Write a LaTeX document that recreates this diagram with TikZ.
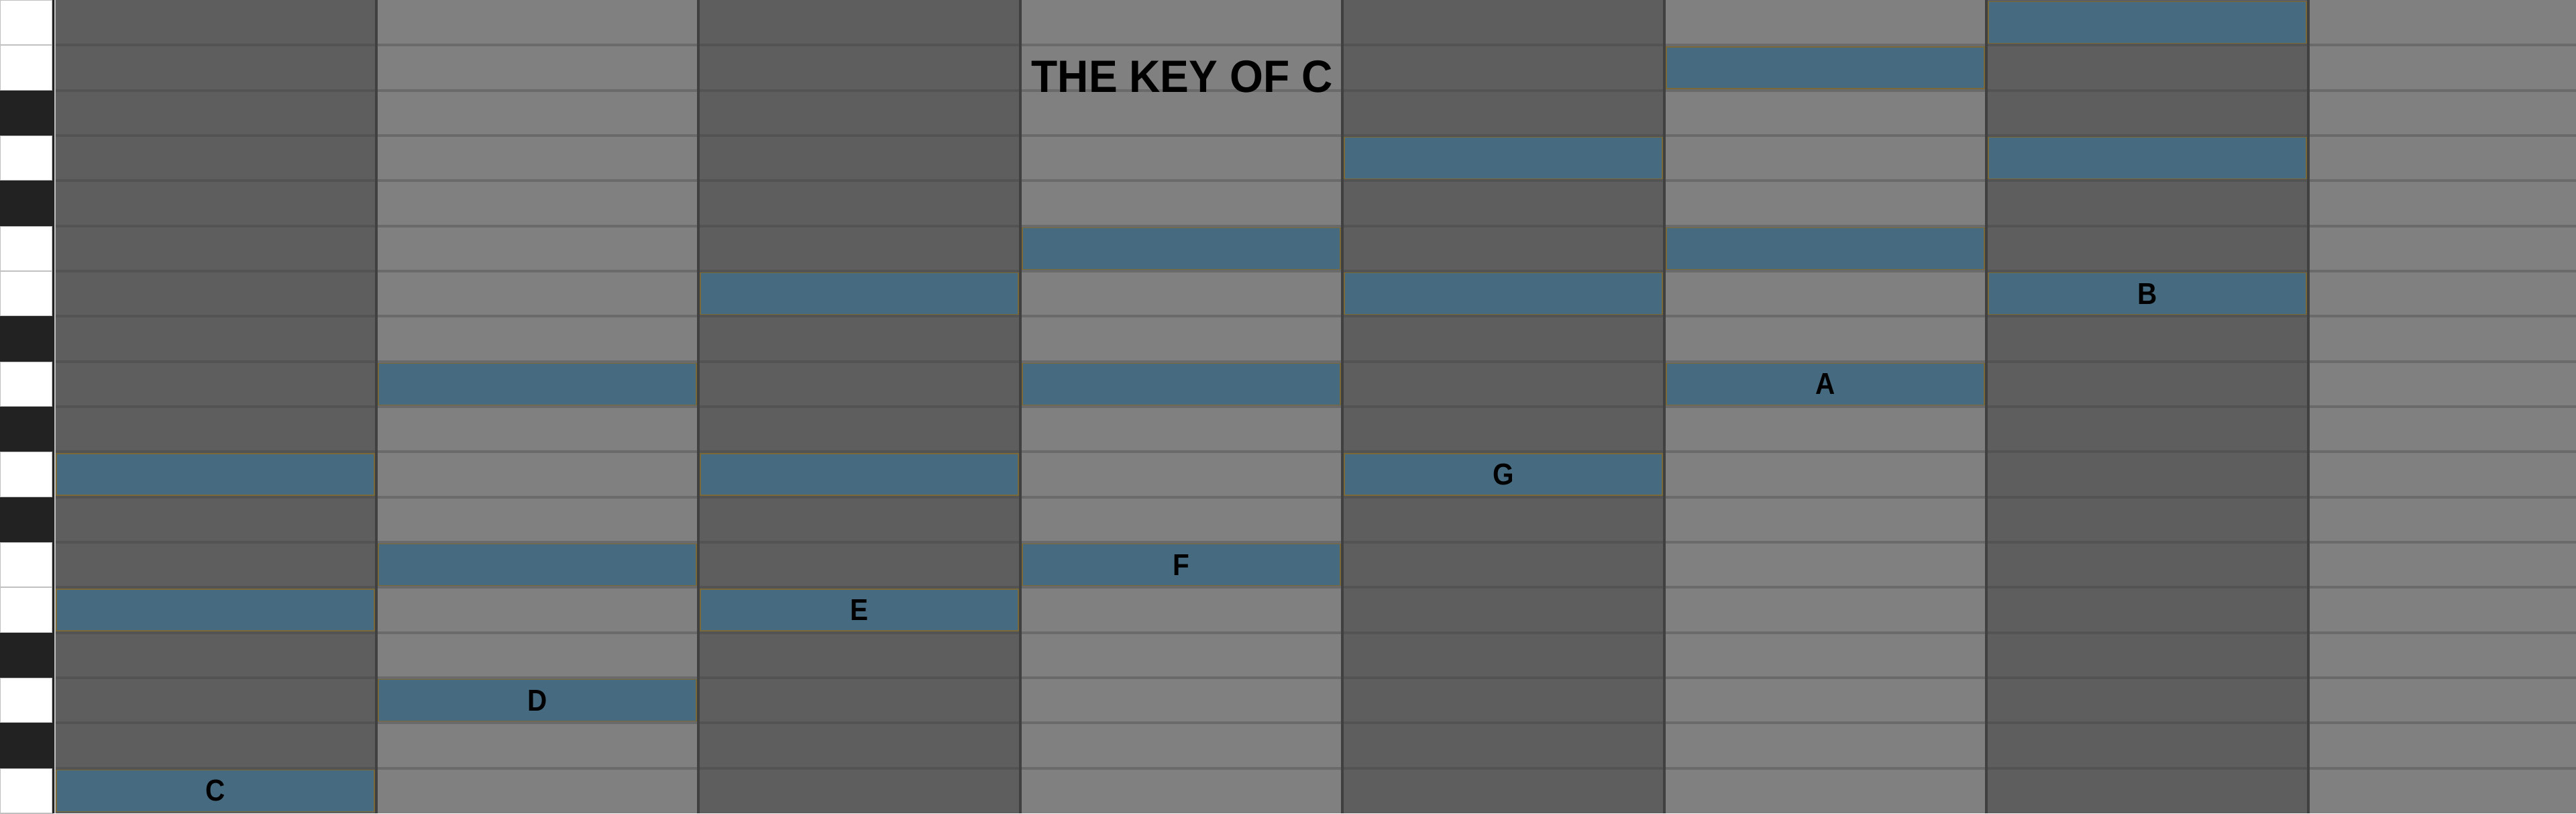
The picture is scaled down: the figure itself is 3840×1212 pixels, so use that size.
\documentclass[tikz,border=0pt]{standalone}
\usepackage{fontspec}
\setmainfont{Liberation Sans}
\newfontfamily\rollfont[FakeStretch=0.9]{Liberation Sans}
\newfontfamily\titlefont[FakeStretch=0.95]{Liberation Sans}
\definecolor{keywhite}{RGB}{255,255,255}
\definecolor{keyblack}{RGB}{34,34,34}
\definecolor{keysep}{RGB}{192,192,192}
\definecolor{coldark}{RGB}{94,94,94}
\definecolor{collight}{RGB}{128,128,128}
\definecolor{linedark}{RGB}{83,83,83}
\definecolor{linelight}{RGB}{106,106,106}
\definecolor{colsep}{RGB}{64,64,64}
\definecolor{notefill}{RGB}{70,107,128}
\definecolor{noteedge}{RGB}{122,106,58}

\begin{document}
\begin{tikzpicture}[x=0.01cm, y=0.01cm,
    note/.style={draw=noteedge, line width=0.45pt, fill=notefill, inner sep=0pt,
        minimum width=4.74cm, minimum height=0.62cm,
        font=\rollfont\bfseries\fontsize{12.8}{14}\selectfont},
    title/.style={font=\titlefont\bfseries\fontsize{19.2}{21}\selectfont}]

\useasboundingbox (0,0) rectangle (3840,1212);

% === Teclado a la izquierda ===
\foreach \b in {0,2,4,5,7,9,11,12,14,16,17} {
    \filldraw[fill=keywhite, draw=keysep, line width=0.6pt]
        (0, \b*67.333) rectangle (78, \b*67.333+67.333);
}
\foreach \b in {1,3,6,8,10,13,15} {
    \fill[keyblack] (0, \b*67.333) rectangle (80, \b*67.333+67.333);
}
\draw[keyblack, line width=0.9pt] (79.5,0) -- (79.5,1212);
\draw[keysep, line width=0.5pt] (82,0) -- (82,1212);

% === Columnas de la rejilla (oscura / clara) ===
\foreach \c in {0,...,7} {
    \pgfmathsetmacro{\xa}{83+480*\c}
    \pgfmathsetmacro{\xb}{min(561+480*\c,3840)}
    \ifodd\c
        \fill[collight] (\xa,0) rectangle (\xb,1212);
        \foreach \b in {1,...,17} {
            \draw[linelight, line width=1.1pt] (\xa, \b*67.333) -- (\xb, \b*67.333);
        }
    \else
        \fill[coldark] (\xa,0) rectangle (\xb,1212);
        \foreach \b in {1,...,17} {
            \draw[linedark, line width=1.1pt] (\xa, \b*67.333) -- (\xb, \b*67.333);
        }
    \fi
}
% Separadores de columna
\foreach \c in {1,...,7} {
    \draw[colsep, line width=1.3pt] (81+480*\c, 0) -- (81+480*\c, 1212);
}

% === Acordes de la escala (fundamental, tercera, quinta) ===
\foreach \c/\r/\t/\f/\lbl in {0/0/4/7/C, 1/2/5/9/D, 2/4/7/11/E, 3/5/9/12/F,
                               4/7/11/14/G, 5/9/12/16/A, 6/11/14/17/B} {
    \node[note] (root-\c) at (321+480*\c, \r*67.333+33.667) {\lbl};
    \node[note] (third-\c) at (321+480*\c, \t*67.333+33.667) {};
    \node[note] (fifth-\c) at (321+480*\c, \f*67.333+33.667) {};
}

% Titulo
\node[title] (title) at (1762, 1098) {THE KEY OF C};

\end{tikzpicture}
\end{document}
